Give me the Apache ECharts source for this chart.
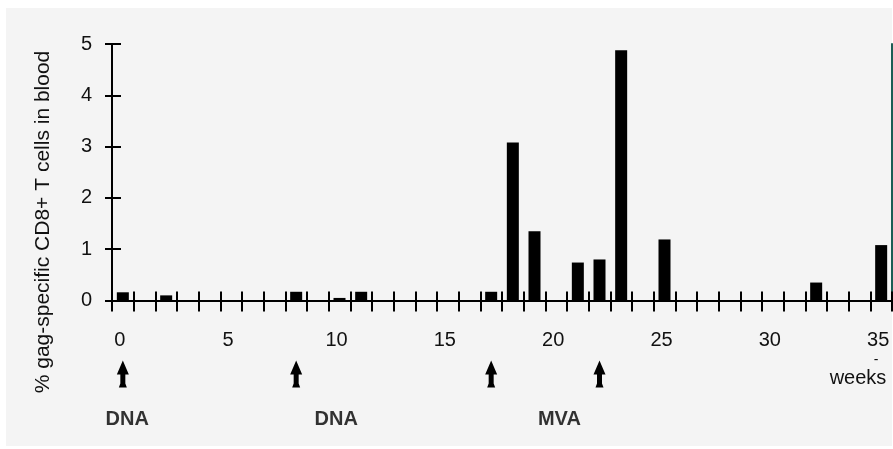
<!DOCTYPE html>
<html><head><meta charset="utf-8">
<script src="https://cdn.jsdelivr.net/npm/echarts@6/dist/echarts.min.js"></script>
<style>html,body{margin:0;padding:0;background:#fff}#c{width:893px;height:449px}</style>
</head><body><div id="c"></div>
<script>
const weeks = ['0','1','2','3','4','5','6','7','8','9','10','11','12','13','14','15','16','17','18','19','20','21','22','23','24','25','26','27','28','29','30','31','32','33','34','35'];
const values = [0.16,0,0.10,0,0,0,0,0,0.17,0,0.05,0.17,0,0,0,0,0,0.17,3.08,1.35,0,0.74,0.80,4.88,0,1.19,0,0,0,0,0,0,0.35,0,0,1.08];
const yTicks = [0,1,2,3,4,5];
const vaccineWeeks = [0, 8, 17, 22];
const vaccineLabels = ['DNA','DNA','MVA'];
const vaccineLabelWeeks = [0.2, 9.85, 20.15];
const yTitle = '% gag-specific CD8+ T cells in blood';
const xTitle = 'weeks';

const FONT = 'Liberation Sans, Arial, Helvetica, sans-serif';
const chart = echarts.init(document.getElementById('c'), null, {renderer:'canvas'});

const baseX = {
  type: 'category', data: weeks, gridIndex: 0, position: 'bottom', boundaryGap: true,
  axisLine: {show: true, lineStyle: {color: '#000', width: 2}}
};
const baseY = {
  type: 'value', gridIndex: 0, position: 'left',
  min: yTicks[0], max: yTicks[yTicks.length-1], interval: 1,
  splitLine: {show: false},
  axisLine: {show: true, lineStyle: {color: '#000', width: 2}}
};

chart.setOption({
  backgroundColor: '#ffffff',
  animation: false,
  graphic: [
    {type:'rect', z:-10, shape:{x:6, y:8, width:886, height:438}, style:{fill:'#f4f4f4'}},
    {type:'text', x:43, y:222, rotation: Math.PI/2,
     style:{text: yTitle, font: '21px ' + FONT, fill:'#111', align:'center', verticalAlign:'middle'}},
    {type:'text', x:858, y:378,
     style:{text: xTitle, font: '20px ' + FONT, fill:'#111', align:'center', verticalAlign:'middle'}},
    {type:'text', x:876, y:360,
     style:{text: '-', font: '14px ' + FONT, fill:'#111', align:'center', verticalAlign:'middle'}}
  ],
  grid: [
    {left: 112, right: 1, top: 44, bottom: 148.5},
    {left: 112, right: 1, top: 350, height: 80}
  ],
  xAxis: [
    Object.assign({}, baseX, {
      axisTick: {show: true, interval: 0, inside: true, length: 9, lineStyle: {color:'#000', width: 2}},
      axisLabel: {show: true, interval: function(i){ return i % 5 === 0; }, margin: 30,
        color: '#111', fontSize: 20, fontFamily: FONT, padding: [0, 6, 0, 0]}
    }),
    Object.assign({}, baseX, {
      axisTick: {show: true, interval: 0, inside: false, length: 11, lineStyle: {color:'#000', width: 2}},
      axisLabel: {show: false}
    }),
    {type:'value', gridIndex: 1, min: -0.5, max: 35.5, show: false}
  ],
  yAxis: [
    Object.assign({}, baseY, {
      axisTick: {show: true, inside: true, length: 9, lineStyle: {color:'#000', width: 2}},
      axisLabel: {show: true, margin: 20, color:'#111', fontSize: 20, fontFamily: FONT}
    }),
    Object.assign({}, baseY, {
      axisTick: {show: true, inside: false, length: 7, lineStyle: {color:'#000', width: 2}},
      axisLabel: {show: false}
    }),
    Object.assign({}, baseY, {
      position: 'right',
      axisLine: {show: true, lineStyle: {color: '#1d5d55', width: 2}},
      axisTick: {show: false}, axisLabel: {show: false}
    }),
    {type:'value', gridIndex: 1, min: 0, max: 80, show: false}
  ],
  series: [
    {type: 'bar', xAxisIndex: 0, yAxisIndex: 0, data: values, barWidth: 12,
     itemStyle: {color: '#000'}, z: 3},
    {type: 'scatter', xAxisIndex: 2, yAxisIndex: 3,
     data: vaccineWeeks.map(w => [w, 56]),
     symbol: 'path://M6,0 L12,14 L8.5,14 L8.5,23 L10,27 L2,27 L3.5,23 L3.5,14 L0,14 Z',
     symbolSize: [12, 27], itemStyle: {color: '#000', opacity: 1}},
    {type: 'scatter', xAxisIndex: 2, yAxisIndex: 3,
     data: vaccineLabels.map((t, i) => ({name: t, value: [vaccineLabelWeeks[i], 11]})),
     symbolSize: 0,
     label: {show: true, position: 'inside', formatter: '{b}', color: '#000',
       fontSize: 20, fontWeight: 'bold', fontFamily: FONT}}
  ]
});
</script></body></html>
